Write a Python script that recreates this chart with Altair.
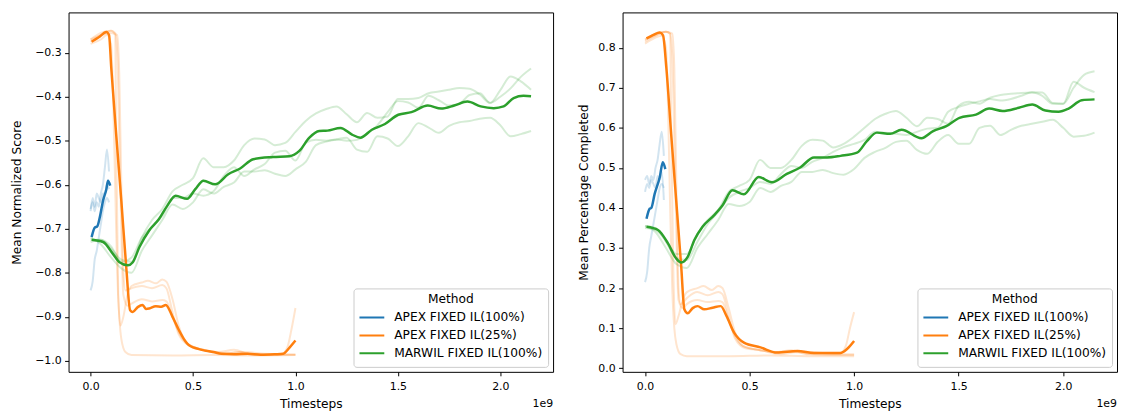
import altair as alt
import pandas as pd

FONT = "DejaVu Sans"
METHODS = ["APEX FIXED IL(100%)", "APEX FIXED IL(25%)", "MARWIL FIXED IL(100%)"]
COLORS = ["#1f77b4", "#ff7f0e", "#2ca02c"]
X_TICKS = [0, 0.5e9, 1.0e9, 1.5e9, 2.0e9]
SCORE_TICKS = [-1.0, -0.9, -0.8, -0.7, -0.6, -0.5, -0.4, -0.3]
COMPLETED_TICKS = [0.0, 0.1, 0.2, 0.3, 0.4, 0.5, 0.6, 0.7, 0.8]

# ---------------- timesteps are given in units of 1e9 ----------------
APEX100_RUN_T = [0.0, 0.01, 0.02, 0.03, 0.04, 0.05, 0.06, 0.07, 0.08, 0.09]
GREEN_RUN_T = [0.0, 0.05, 0.1, 0.15, 0.2, 0.25, 0.3, 0.35, 0.4, 0.45, 0.5, 0.55, 0.6, 0.65,
               0.7, 0.75, 0.8, 0.85, 0.9, 0.95, 1.0, 1.05, 1.1, 1.15, 1.2, 1.25, 1.3, 1.35,
               1.4, 1.45, 1.5, 1.55, 1.6, 1.65, 1.7, 1.75, 1.8, 1.85, 1.9, 1.95, 2.0, 2.05,
               2.1, 2.15]

# ================= Left panel: Mean Normalized Score =================
score_apex100_mean_t = [0.005, 0.021, 0.032, 0.045, 0.061, 0.077, 0.085, 0.096]
score_apex100_mean = [-0.719, -0.697, -0.695, -0.674, -0.636, -0.610, -0.591, -0.602]
score_apex100_run1 = [-0.84, -0.82, -0.77, -0.75, -0.72, -0.69, -0.66, -0.64, -0.63, -0.64]
score_apex100_run2 = [-0.655, -0.64, -0.66, -0.64, -0.65, -0.62, -0.60, -0.56, -0.52, -0.57]
score_apex100_run3 = [-0.66, -0.63, -0.65, -0.62, -0.63, -0.64, -0.62, -0.62, -0.60, -0.61]

score_apex25_mean_t = [0.005, 0.04, 0.077, 0.09, 0.101, 0.125, 0.15, 0.174, 0.193, 0.206, 0.23,
                       0.254, 0.27, 0.286, 0.318, 0.345, 0.367, 0.4, 0.431, 0.455, 0.479, 0.543,
                       0.6, 0.64, 0.7, 0.768, 0.83, 0.9, 0.94, 0.971, 1.0]
score_apex25_mean = [-0.275, -0.265, -0.253, -0.26, -0.335, -0.486, -0.636, -0.787, -0.885,
                     -0.889, -0.878, -0.873, -0.882, -0.881, -0.876, -0.877, -0.873, -0.9, -0.93,
                     -0.95, -0.964, -0.975, -0.98, -0.984, -0.985, -0.984, -0.986, -0.985,
                     -0.984, -0.97, -0.954]
score_apex25_run1_t = [0.0, 0.05, 0.1, 0.12, 0.125, 0.135, 0.145, 0.16, 0.18, 0.2, 0.25, 0.28,
                       0.32, 0.35, 0.37, 0.4, 0.43, 0.47, 0.55, 0.65, 0.75, 0.85, 0.93, 0.96,
                       0.98, 1.0]
score_apex25_run1 = [-0.27, -0.255, -0.25, -0.26, -0.5, -0.85, -0.92, -0.9, -0.85, -0.83, -0.822,
                     -0.818, -0.824, -0.815, -0.82, -0.86, -0.92, -0.96, -0.975, -0.982, -0.98,
                     -0.984, -0.985, -0.97, -0.93, -0.88]
score_apex25_run2_t = [0.0, 0.05, 0.08, 0.1, 0.11, 0.12, 0.13, 0.14, 0.15, 0.17, 0.2, 0.4, 0.6,
                       0.8, 1.0]
score_apex25_run2 = [-0.28, -0.27, -0.26, -0.28, -0.4, -0.6, -0.8, -0.9, -0.95, -0.98, -0.987,
                     -0.988, -0.987, -0.988, -0.987]
score_apex25_run3_t = [0.0, 0.05, 0.1, 0.13, 0.14, 0.15, 0.16, 0.17, 0.2, 0.25, 0.3, 0.35, 0.37,
                       0.4, 0.43, 0.48, 0.55, 0.65, 0.72, 0.8, 0.9, 1.0]
score_apex25_run3 = [-0.27, -0.26, -0.255, -0.26, -0.35, -0.6, -0.8, -0.84, -0.835, -0.83,
                     -0.835, -0.828, -0.835, -0.89, -0.94, -0.965, -0.975, -0.985, -0.98,
                     -0.986, -0.987, -0.987]
score_apex25_run4_t = [0.0, 0.05, 0.1, 0.12, 0.13, 0.145, 0.16, 0.18, 0.2, 0.25, 0.3, 0.35, 0.37,
                       0.4, 0.43, 0.47, 0.55, 0.62, 0.7, 0.78, 0.9, 1.0]
score_apex25_run4 = [-0.275, -0.26, -0.25, -0.255, -0.3, -0.6, -0.85, -0.875, -0.87, -0.86,
                     -0.865, -0.862, -0.865, -0.9, -0.935, -0.96, -0.975, -0.98, -0.975,
                     -0.985, -0.985, -0.985]

score_marwil_mean_t = [0.005, 0.061, 0.109, 0.141, 0.182, 0.206, 0.238, 0.286, 0.334, 0.374,
                       0.415, 0.471, 0.511, 0.551, 0.608, 0.672, 0.73, 0.794, 0.89, 0.971, 1.019,
                       1.068, 1.116, 1.156, 1.22, 1.276, 1.317, 1.373, 1.437, 1.502, 1.566,
                       1.646, 1.711, 1.775, 1.839, 1.904, 1.968, 2.016, 2.065, 2.113, 2.15]
score_marwil_mean = [-0.725, -0.730, -0.757, -0.776, -0.783, -0.776, -0.742, -0.704, -0.678,
                     -0.648, -0.625, -0.632, -0.610, -0.591, -0.599, -0.576, -0.563, -0.542,
                     -0.537, -0.535, -0.523, -0.493, -0.478, -0.477, -0.471, -0.486, -0.493,
                     -0.475, -0.462, -0.441, -0.435, -0.42, -0.427, -0.42, -0.411, -0.422,
                     -0.426, -0.422, -0.403, -0.398, -0.399]
score_marwil_run1 = [-0.73, -0.725, -0.745, -0.77, -0.775, -0.72, -0.68, -0.655, -0.615, -0.6,
                     -0.585, -0.54, -0.56, -0.56, -0.545, -0.51, -0.495, -0.497, -0.51, -0.505,
                     -0.48, -0.455, -0.438, -0.428, -0.422, -0.44, -0.458, -0.437, -0.448,
                     -0.445, -0.405, -0.405, -0.403, -0.392, -0.388, -0.384, -0.38, -0.382,
                     -0.395, -0.414, -0.385, -0.354, -0.365, -0.384]
score_marwil_run2 = [-0.72, -0.735, -0.765, -0.79, -0.8, -0.75, -0.715, -0.68, -0.645, -0.655,
                     -0.64, -0.61, -0.62, -0.605, -0.595, -0.57, -0.57, -0.567, -0.575, -0.58,
                     -0.565, -0.548, -0.51, -0.502, -0.497, -0.493, -0.52, -0.525, -0.49,
                     -0.495, -0.512, -0.49, -0.46, -0.47, -0.482, -0.466, -0.458, -0.455,
                     -0.45, -0.448, -0.465, -0.49, -0.485, -0.478]
score_marwil_run3 = [-0.725, -0.725, -0.74, -0.775, -0.765, -0.72, -0.695, -0.67, -0.63, -0.63,
                     -0.62, -0.625, -0.615, -0.58, -0.56, -0.58, -0.565, -0.553, -0.527,
                     -0.523, -0.545, -0.505, -0.498, -0.5, -0.497, -0.5, -0.498, -0.483,
                     -0.465, -0.435, -0.41, -0.413, -0.425, -0.398, -0.408, -0.42, -0.416,
                     -0.396, -0.392, -0.414, -0.4, -0.381, -0.355, -0.336]

# ================= Right panel: Mean Percentage Completed =================
comp_apex100_mean_t = [0.007, 0.022, 0.03, 0.046, 0.07, 0.085, 0.097]
comp_apex100_mean = [0.373, 0.398, 0.400, 0.435, 0.476, 0.514, 0.497]
comp_apex100_run1 = [0.215, 0.24, 0.30, 0.33, 0.36, 0.39, 0.42, 0.45, 0.46, 0.45]
comp_apex100_run2 = [0.47, 0.48, 0.46, 0.48, 0.47, 0.50, 0.52, 0.56, 0.59, 0.53]
comp_apex100_run3 = [0.44, 0.46, 0.45, 0.47, 0.46, 0.45, 0.48, 0.47, 0.49, 0.42]

comp_apex25_mean_t = [0.007, 0.04, 0.07, 0.086, 0.102, 0.125, 0.149, 0.173, 0.188, 0.204, 0.228,
                      0.251, 0.283, 0.323, 0.362, 0.39, 0.426, 0.473, 0.552, 0.631, 0.729,
                      0.808, 0.87, 0.934, 0.966, 1.0]
comp_apex25_mean = [0.823, 0.832, 0.838, 0.831, 0.749, 0.584, 0.419, 0.254, 0.147, 0.137, 0.15,
                    0.155, 0.147, 0.151, 0.155, 0.13, 0.089, 0.064, 0.052, 0.039, 0.043, 0.038,
                    0.038, 0.038, 0.048, 0.068]
comp_apex25_run1_t = [0.0, 0.05, 0.1, 0.12, 0.125, 0.135, 0.145, 0.16, 0.18, 0.2, 0.25, 0.28,
                      0.32, 0.35, 0.37, 0.4, 0.43, 0.47, 0.55, 0.65, 0.75, 0.85, 0.93, 0.96,
                      0.98, 1.0]
comp_apex25_run1 = [0.82, 0.835, 0.84, 0.835, 0.6, 0.25, 0.11, 0.13, 0.17, 0.19, 0.2, 0.205,
                    0.195, 0.205, 0.2, 0.15, 0.09, 0.055, 0.045, 0.04, 0.042, 0.038, 0.036,
                    0.055, 0.1, 0.14]
comp_apex25_run2_t = [0.0, 0.05, 0.08, 0.1, 0.11, 0.12, 0.13, 0.14, 0.15, 0.17, 0.2, 0.4, 0.6,
                      0.8, 1.0]
comp_apex25_run2 = [0.81, 0.825, 0.83, 0.8, 0.65, 0.4, 0.2, 0.1, 0.06, 0.035, 0.03, 0.03, 0.032,
                    0.03, 0.03]
comp_apex25_run3_t = [0.0, 0.05, 0.1, 0.13, 0.14, 0.15, 0.16, 0.17, 0.2, 0.25, 0.3, 0.35, 0.37,
                      0.4, 0.43, 0.48, 0.55, 0.65, 0.72, 0.8, 0.9, 1.0]
comp_apex25_run3 = [0.82, 0.83, 0.84, 0.835, 0.75, 0.45, 0.2, 0.16, 0.175, 0.19, 0.182, 0.19,
                    0.185, 0.13, 0.075, 0.05, 0.045, 0.035, 0.04, 0.035, 0.033, 0.033]
comp_apex25_run4_t = [0.0, 0.05, 0.1, 0.12, 0.13, 0.145, 0.16, 0.18, 0.2, 0.25, 0.3, 0.35, 0.37,
                      0.4, 0.43, 0.47, 0.55, 0.62, 0.7, 0.78, 0.9, 1.0]
comp_apex25_run4 = [0.815, 0.83, 0.84, 0.835, 0.78, 0.45, 0.17, 0.15, 0.16, 0.17, 0.165, 0.168,
                    0.165, 0.12, 0.08, 0.055, 0.045, 0.04, 0.045, 0.035, 0.035, 0.035]

comp_marwil_mean_t = [0.007, 0.062, 0.109, 0.149, 0.173, 0.204, 0.236, 0.275, 0.331, 0.37,
                      0.418, 0.473, 0.544, 0.607, 0.678, 0.742, 0.808, 0.871, 0.935, 1.014,
                      1.061, 1.109, 1.172, 1.227, 1.322, 1.378, 1.441, 1.504, 1.583, 1.646,
                      1.71, 1.788, 1.852, 1.915, 1.978, 2.026, 2.089, 2.15]
comp_marwil_mean = [0.353, 0.345, 0.312, 0.274, 0.264, 0.278, 0.32, 0.353, 0.382, 0.406, 0.444,
                    0.434, 0.477, 0.464, 0.485, 0.501, 0.526, 0.526, 0.53, 0.538, 0.567, 0.588,
                    0.585, 0.595, 0.574, 0.592, 0.604, 0.625, 0.633, 0.648, 0.642, 0.65, 0.658,
                    0.643, 0.64, 0.648, 0.669, 0.671]
comp_marwil_run1 = [0.35, 0.345, 0.32, 0.285, 0.285, 0.335, 0.37, 0.395, 0.44, 0.455, 0.47,
                    0.52, 0.5, 0.5, 0.52, 0.555, 0.57, 0.568, 0.551, 0.56, 0.578, 0.6, 0.622,
                    0.635, 0.642, 0.625, 0.604, 0.625, 0.622, 0.61, 0.655, 0.665, 0.66, 0.675,
                    0.682, 0.685, 0.687, 0.688, 0.68, 0.66, 0.66, 0.715, 0.7, 0.689]
comp_marwil_run2 = [0.355, 0.34, 0.3, 0.26, 0.25, 0.3, 0.335, 0.37, 0.41, 0.405, 0.415, 0.45,
                    0.44, 0.455, 0.465, 0.49, 0.49, 0.495, 0.487, 0.483, 0.497, 0.525, 0.54,
                    0.55, 0.565, 0.568, 0.545, 0.535, 0.565, 0.582, 0.56, 0.56, 0.6, 0.605,
                    0.582, 0.595, 0.605, 0.61, 0.615, 0.62, 0.6, 0.578, 0.58, 0.588]
comp_marwil_run3 = [0.355, 0.35, 0.315, 0.275, 0.27, 0.315, 0.36, 0.39, 0.425, 0.44, 0.45,
                    0.465, 0.46, 0.485, 0.505, 0.5, 0.515, 0.525, 0.54, 0.552, 0.56, 0.57,
                    0.59, 0.588, 0.585, 0.582, 0.59, 0.598, 0.6, 0.64, 0.652, 0.66, 0.666,
                    0.672, 0.668, 0.672, 0.68, 0.689, 0.688, 0.662, 0.66, 0.7, 0.732, 0.741]


def frame(t, v, method, run=None):
    d = pd.DataFrame({"Timesteps": [x * 1e9 for x in t], "Value": v})
    d["Method"] = method
    if run is not None:
        d["Run"] = run
    return d


score_means = pd.concat([
    frame(score_apex100_mean_t, score_apex100_mean, METHODS[0]),
    frame(score_apex25_mean_t, score_apex25_mean, METHODS[1]),
    frame(score_marwil_mean_t, score_marwil_mean, METHODS[2]),
])
score_runs = pd.concat([
    frame(APEX100_RUN_T, score_apex100_run1, METHODS[0], "b1"),
    frame(APEX100_RUN_T, score_apex100_run2, METHODS[0], "b2"),
    frame(APEX100_RUN_T, score_apex100_run3, METHODS[0], "b3"),
    frame(score_apex25_run1_t, score_apex25_run1, METHODS[1], "o1"),
    frame(score_apex25_run2_t, score_apex25_run2, METHODS[1], "o2"),
    frame(score_apex25_run3_t, score_apex25_run3, METHODS[1], "o3"),
    frame(score_apex25_run4_t, score_apex25_run4, METHODS[1], "o4"),
    frame(GREEN_RUN_T, score_marwil_run1, METHODS[2], "g1"),
    frame(GREEN_RUN_T, score_marwil_run2, METHODS[2], "g2"),
    frame(GREEN_RUN_T, score_marwil_run3, METHODS[2], "g3"),
])
comp_means = pd.concat([
    frame(comp_apex100_mean_t, comp_apex100_mean, METHODS[0]),
    frame(comp_apex25_mean_t, comp_apex25_mean, METHODS[1]),
    frame(comp_marwil_mean_t, comp_marwil_mean, METHODS[2]),
])
comp_runs = pd.concat([
    frame(APEX100_RUN_T, comp_apex100_run1, METHODS[0], "b1"),
    frame(APEX100_RUN_T, comp_apex100_run2, METHODS[0], "b2"),
    frame(APEX100_RUN_T, comp_apex100_run3, METHODS[0], "b3"),
    frame(comp_apex25_run1_t, comp_apex25_run1, METHODS[1], "o1"),
    frame(comp_apex25_run2_t, comp_apex25_run2, METHODS[1], "o2"),
    frame(comp_apex25_run3_t, comp_apex25_run3, METHODS[1], "o3"),
    frame(comp_apex25_run4_t, comp_apex25_run4, METHODS[1], "o4"),
    frame(GREEN_RUN_T, comp_marwil_run1, METHODS[2], "g1"),
    frame(GREEN_RUN_T, comp_marwil_run2, METHODS[2], "g2"),
    frame(GREEN_RUN_T, comp_marwil_run3, METHODS[2], "g3"),
])

H = 362


def panel(means, runs, ytitle, ydomain, yticks, width, title_pad):
    x = alt.X("Timesteps:Q",
              scale=alt.Scale(domain=[-0.1075e9, 2.2575e9], nice=False, zero=False),
              axis=alt.Axis(values=X_TICKS, labelExpr="format(datum.value / 1e9, '.1f')",
                            title="Timesteps", labelPadding=5, titlePadding=6))
    y = alt.Y("Value:Q", scale=alt.Scale(domain=ydomain, nice=False, zero=False),
              axis=alt.Axis(values=yticks, format=".1f", title=ytitle, titlePadding=title_pad))
    legend = alt.Legend(title="Method", orient="bottom-right", offset=5, fillColor="white",
                        strokeColor="#cccccc", cornerRadius=3, padding=5,
                        titleAnchor="middle", titleFontWeight="normal", titleFontSize=12.3,
                        titleFont=FONT, titleColor="black", titlePadding=4,
                        labelFontSize=12.3, labelFont=FONT, labelColor="black", labelOffset=9,
                        symbolType="stroke", symbolSize=625, symbolStrokeWidth=2,
                        symbolOpacity=1, clipHeight=16, rowPadding=2)
    color = alt.Color("Method:N", scale=alt.Scale(domain=METHODS, range=COLORS), legend=legend)
    run_layer = alt.Chart(runs).mark_line(strokeWidth=2, opacity=0.2, interpolate="monotone").encode(
        x=x, y=y, color=color, detail="Run:N")
    mean_layer = alt.Chart(means).mark_line(strokeWidth=2.5, interpolate="monotone").encode(
        x=x, y=y, color=color)
    offset_text = alt.Chart(pd.DataFrame({"label": ["1e9"]})).mark_text(
        align="right", baseline="middle", fontSize=11, font=FONT, color="black").encode(
        x=alt.value(width), y=alt.value(H + 32), text="label:N")
    return alt.layer(run_layer, mean_layer, offset_text).properties(width=width, height=H)


left = panel(score_means, score_runs, "Mean Normalized Score", [-1.025, -0.2085],
             SCORE_TICKS, 488, 11)
right = panel(comp_means, comp_runs, "Mean Percentage Completed", [-0.009, 0.888],
              COMPLETED_TICKS, 498, 7)

chart = alt.hconcat(left, right, spacing=23).resolve_scale(
    y="independent", color="shared").resolve_legend(color="independent").properties(
    padding={"left": 2, "top": 2, "right": 0, "bottom": 0}, background="white"
).configure_view(stroke="black", strokeWidth=1).configure_axis(
    grid=False, domain=False, tickColor="black", tickSize=4, tickWidth=1,
    labelFont=FONT, labelFontSize=11, labelColor="black", labelPadding=3.5,
    titleFont=FONT, titleFontSize=12.3, titleFontWeight="normal", titleColor="black"
)

chart.save("out.html", embed_options={"renderer": "svg", "actions": False})
